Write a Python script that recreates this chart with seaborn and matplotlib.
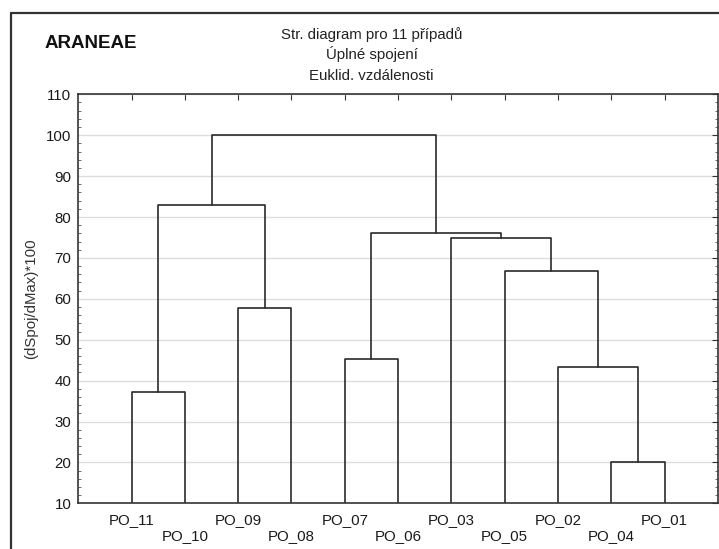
import matplotlib
matplotlib.use("Agg")
import matplotlib.pyplot as plt
from matplotlib.ticker import AutoMinorLocator
import seaborn as sns
import pandas as pd

# ---- data ----
leaves = ['PO_11', 'PO_10', 'PO_09', 'PO_08', 'PO_07', 'PO_06',
          'PO_03', 'PO_05', 'PO_02', 'PO_04', 'PO_01']
merge_a = ['PO_04', 'PO_11', 'PO_02', 'PO_07', 'PO_09', 'PO_05', 'PO_03', 'c4', 'c2', 'c9']
merge_b = ['PO_01', 'PO_10', 'c1', 'PO_06', 'PO_08', 'c3', 'c6', 'c7', 'c5', 'c8']
merge_h = [20.1, 37.1, 43.3, 45.3, 57.7, 66.9, 74.8, 76.1, 83.0, 100.0]
y_ticks = [10, 20, 30, 40, 50, 60, 70, 80, 90, 100, 110]

sns.set_style("white")
plt.rcParams['font.family'] = ['Liberation Sans', 'DejaVu Sans']

# build dendrogram segments
pos = {name: i + 1 for i, name in enumerate(leaves)}
hgt = {name: 0.0 for name in leaves}
rows = []
for k, (a, b, h) in enumerate(zip(merge_a, merge_b, merge_h)):
    xa, xb = pos[a], pos[b]
    ya, yb = hgt[a], hgt[b]
    for x, y in [(xa, ya), (xa, h), (xb, h), (xb, yb)]:
        rows.append({'seg': k, 'x': x, 'y': y})
    name = 'c%d' % (k + 1)
    pos[name] = (xa + xb) / 2.0
    hgt[name] = h
df = pd.DataFrame(rows)

fig = plt.figure(figsize=(7.19, 5.49), dpi=100)
W, H = 719, 549
ax = fig.add_axes([78.3 / W, 1 - 503.3 / H, (717.8 - 78.3) / W, (503.3 - 94.3) / H])

sns.lineplot(data=df, x='x', y='y', units='seg', estimator=None, sort=False,
             color='#2a2a2a', linewidth=1.2, ax=ax, legend=False)

ax.set_xlim(0, 12)
ax.set_ylim(10, 110)
ax.set_yticks(y_ticks)
ax.yaxis.set_minor_locator(AutoMinorLocator(5))
ax.set_xticks(range(1, len(leaves) + 1))
ax.set_xticklabels([lab if i % 2 == 0 else '\n' + lab for i, lab in enumerate(leaves)],
                   fontsize=10.8, linespacing=1.2)
ax.tick_params(axis='y', labelsize=10.8, pad=5)
ax.tick_params(axis='both', which='major', direction='in', length=4, width=0.8,
               top=True, right=True, color='#333333', labelcolor='#1a1a1a')
ax.tick_params(axis='y', which='minor', direction='in', length=2, width=0.6,
               left=True, right=True, color='#555555')
ax.tick_params(axis='x', pad=7)
ax.grid(axis='y', which='major', color='#dcdcdc', linewidth=1.0)
ax.set_axisbelow(True)
for sp in ax.spines.values():
    sp.set_visible(True)
    sp.set_color('#333333')
    sp.set_linewidth(1.2)
ax.set_xlabel('')
ax.set_ylabel('(dSpoj/dMax)*100', fontsize=10.8, color='#333333', labelpad=6)

# outer frame (left + top edges visible)
fig.add_artist(plt.Line2D([10.7 / W, 10.7 / W], [0, 1 - 13.3 / H], color='#333333',
                          linewidth=1.6, transform=fig.transFigure))
fig.add_artist(plt.Line2D([10.7 / W, 1], [1 - 13.3 / H, 1 - 13.3 / H], color='#333333',
                          linewidth=1.6, transform=fig.transFigure))

fig.text(45 / W, 1 - 47.7 / H, 'ARANEAE', fontsize=13.5, fontweight='bold',
         ha='left', va='baseline', color='#111111')
cx = 371.5 / W
for txt, yb in [('Str. diagram pro 11 případů', 39.5),
                ('Úplné spojení', 59.5),
                ('Euklid. vzdálenosti', 80)]:
    fig.text(cx, 1 - yb / H, txt, fontsize=10.8, ha='center', va='baseline', color='#222222')

fig.savefig('out.png', dpi=100)
